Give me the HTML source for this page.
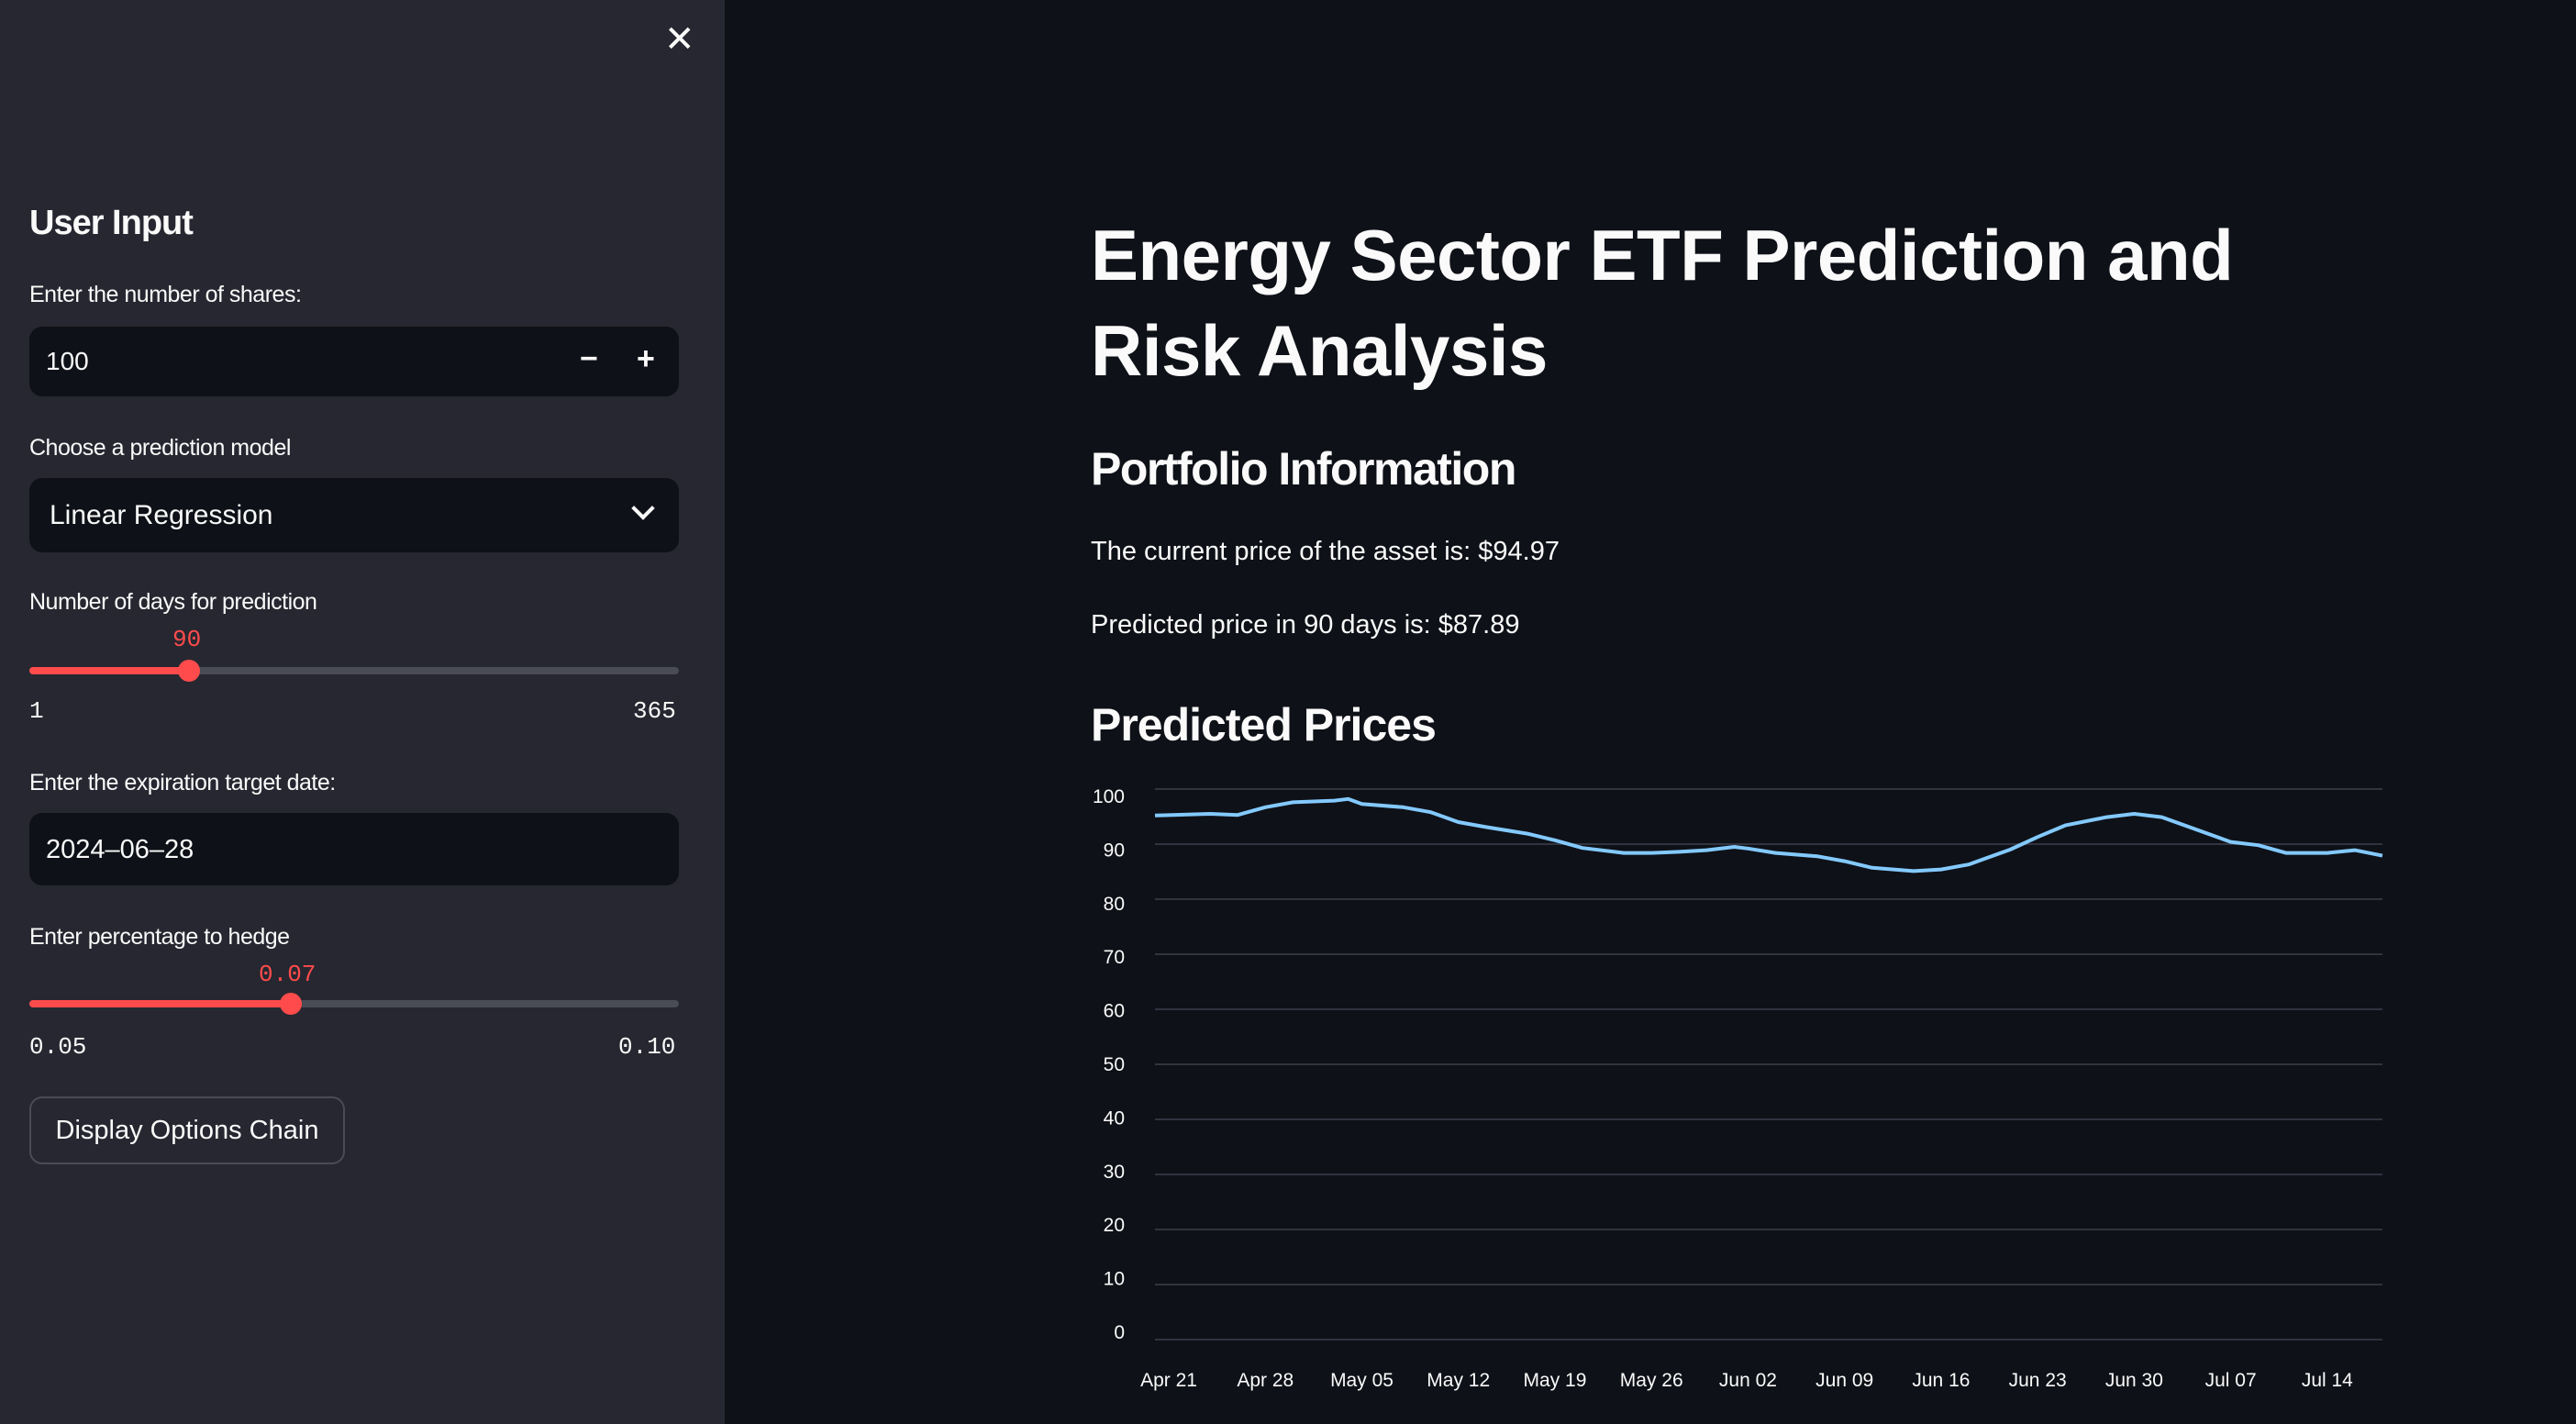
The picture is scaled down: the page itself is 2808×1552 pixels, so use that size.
<!DOCTYPE html>
<html><head><meta charset="utf-8"><style>
body{margin:0;width:2808px;height:1552px;background:#0e1117;font-family:"Liberation Sans",sans-serif;color:#fafafa;overflow:hidden;position:relative}
.a{position:absolute;white-space:nowrap}
#side{position:absolute;left:0;top:0;width:790px;height:1552px;background:#262730}
.lbl{font-size:25px;letter-spacing:-0.5px}
.box{position:absolute;left:32px;width:708px;background:#0e1117;border-radius:14px}
.track{position:absolute;left:32px;width:708px;height:8px;border-radius:4px;background:#4a4c55}
.fill{position:absolute;left:0;top:0;height:8px;border-radius:4px;background:#ff4b4b}
.thumb{position:absolute;width:24px;height:24px;border-radius:50%;background:#ff4b4b;top:-8px}
.mono{font-family:"Liberation Mono",monospace;font-size:26px}
</style></head><body>
<div id="side">
<div class="a" style="left:724px;top:20px;font-size:40px;color:#fafafa">✕</div>
<div class="a" style="left:32px;top:222px;font-size:38px;font-weight:bold;letter-spacing:-1px">User Input</div>
<div class="a lbl" style="left:32px;top:307px">Enter the number of shares:</div>
<div class="box" style="top:356px;height:76px">
 <div class="a" style="left:18px;top:22px;font-size:28px">100</div>
 <div class="a" style="left:600px;top:16px;font-size:34px;font-weight:bold">−</div>
 <div class="a" style="left:662px;top:16px;font-size:34px;font-weight:bold">+</div>
</div>
<div class="a lbl" style="left:32px;top:474px">Choose a prediction model</div>
<div class="box" style="top:521px;height:81px">
 <div class="a" style="left:22px;top:24px;font-size:30px">Linear Regression</div>
 <div class="a" style="left:660px;top:24px;width:14px;height:14px;border-right:4px solid #fafafa;border-bottom:4px solid #fafafa;transform:rotate(45deg)"></div>
</div>
<div class="a lbl" style="left:32px;top:642px">Number of days for prediction</div>
<div class="a mono" style="left:188px;top:682px;color:#ff4b4b">90</div>
<div class="track" style="top:727px"><div class="fill" style="width:174px"></div><div class="thumb" style="left:162px"></div></div>
<div class="a mono" style="left:32px;top:760px">1</div>
<div class="a mono" style="left:690px;top:760px">365</div>
<div class="a lbl" style="left:32px;top:839px">Enter the expiration target date:</div>
<div class="box" style="top:886px;height:79px"><div class="a" style="left:18px;top:24px;font-size:29px">2024–06–28</div></div>
<div class="a lbl" style="left:32px;top:1007px">Enter percentage to hedge</div>
<div class="a mono" style="left:282px;top:1047px;color:#ff4b4b">0.07</div>
<div class="track" style="top:1090px"><div class="fill" style="width:285px"></div><div class="thumb" style="left:273px"></div></div>
<div class="a mono" style="left:32px;top:1126px">0.05</div>
<div class="a mono" style="left:674px;top:1126px">0.10</div>
<div class="a" style="left:32px;top:1195px;width:344px;height:74px;border:2px solid #4a4c55;border-radius:14px;box-sizing:border-box;font-size:29px;text-align:center;line-height:70px">Display Options Chain</div>
</div>
<div class="a" style="left:1189px;top:226px;font-size:78px;font-weight:bold;letter-spacing:-0.5px;line-height:104px">Energy Sector ETF Prediction and<br>Risk Analysis</div>
<div class="a" style="left:1189px;top:482px;font-size:50px;font-weight:bold;letter-spacing:-1.5px">Portfolio Information</div>
<div class="a" style="left:1189px;top:585px;font-size:29px">The current price of the asset is: $94.97</div>
<div class="a" style="left:1189px;top:665px;font-size:29px">Predicted price in 90 days is: $87.89</div>
<div class="a" style="left:1189px;top:761px;font-size:50px;font-weight:bold;letter-spacing:-1px">Predicted Prices</div>
<svg id="chart" style="position:absolute;left:0;top:0" width="2808" height="1552"></svg>
<script>
const dayOffsets=[0,4,6,8,10,13,14,15,18,20,22,24,27,29,31,34,36,38,40,42,43,45,48,50,52,55,57,59,62,64,66,69,71,73,75,78,80,82,85,87,89];
const prices=[95.2,95.5,95.3,96.7,97.6,97.9,98.2,97.3,96.7,95.8,94.0,93.1,91.9,90.7,89.3,88.4,88.4,88.6,88.9,89.5,89.2,88.4,87.8,86.9,85.7,85.1,85.4,86.3,89.0,91.3,93.4,94.9,95.5,94.9,93.1,90.4,89.8,88.4,88.4,88.9,87.9];
const yTicks=[0,10,20,30,40,50,60,70,80,90,100];
const xTickLabels=["Apr 21","Apr 28","May 05","May 12","May 19","May 26","Jun 02","Jun 09","Jun 16","Jun 23","Jun 30","Jul 07","Jul 14"];
const xTickDays=[1,8,15,22,29,36,43,50,57,64,71,78,85];
const svg=document.getElementById('chart');const NS='http://www.w3.org/2000/svg';
const X0=1259,X1=2597,Y0=1460,Y100=860;
const xs=d=>X0+(X1-X0)*d/89;const ys=v=>Y0+(Y100-Y0)*v/100;
const yl=v=>1451+(867-1451)*v/100;
function mk(t,a){const e=document.createElementNS(NS,t);for(const k in a)e.setAttribute(k,a[k]);svg.appendChild(e);return e;}
yTicks.forEach(v=>{
 const g=mk('line',{x1:X0,x2:X1,y1:ys(v),y2:ys(v),stroke:'#31333f','stroke-width':2});
 
 
 const t=mk('text',{x:1226,y:yl(v)+8,'text-anchor':'end',fill:'#fafafa','font-size':21,'font-family':'Liberation Sans, sans-serif'});
 t.textContent=v;
 
 
});
xTickLabels.forEach((l,i)=>{
 const t=mk('text',{x:xs(xTickDays[i]),y:1511,'text-anchor':'middle',fill:'#fafafa','font-size':21,'font-family':'Liberation Sans, sans-serif'});
 t.textContent=l;
 
 
});
const p=mk('path',{d:dayOffsets.map((d,i)=>(i?'L':'M')+xs(d).toFixed(1)+','+ys(prices[i]).toFixed(1)).join(''),fill:'none',stroke:'#83c9ff','stroke-width':4,'stroke-linejoin':'round'});


</script>
</body></html>
